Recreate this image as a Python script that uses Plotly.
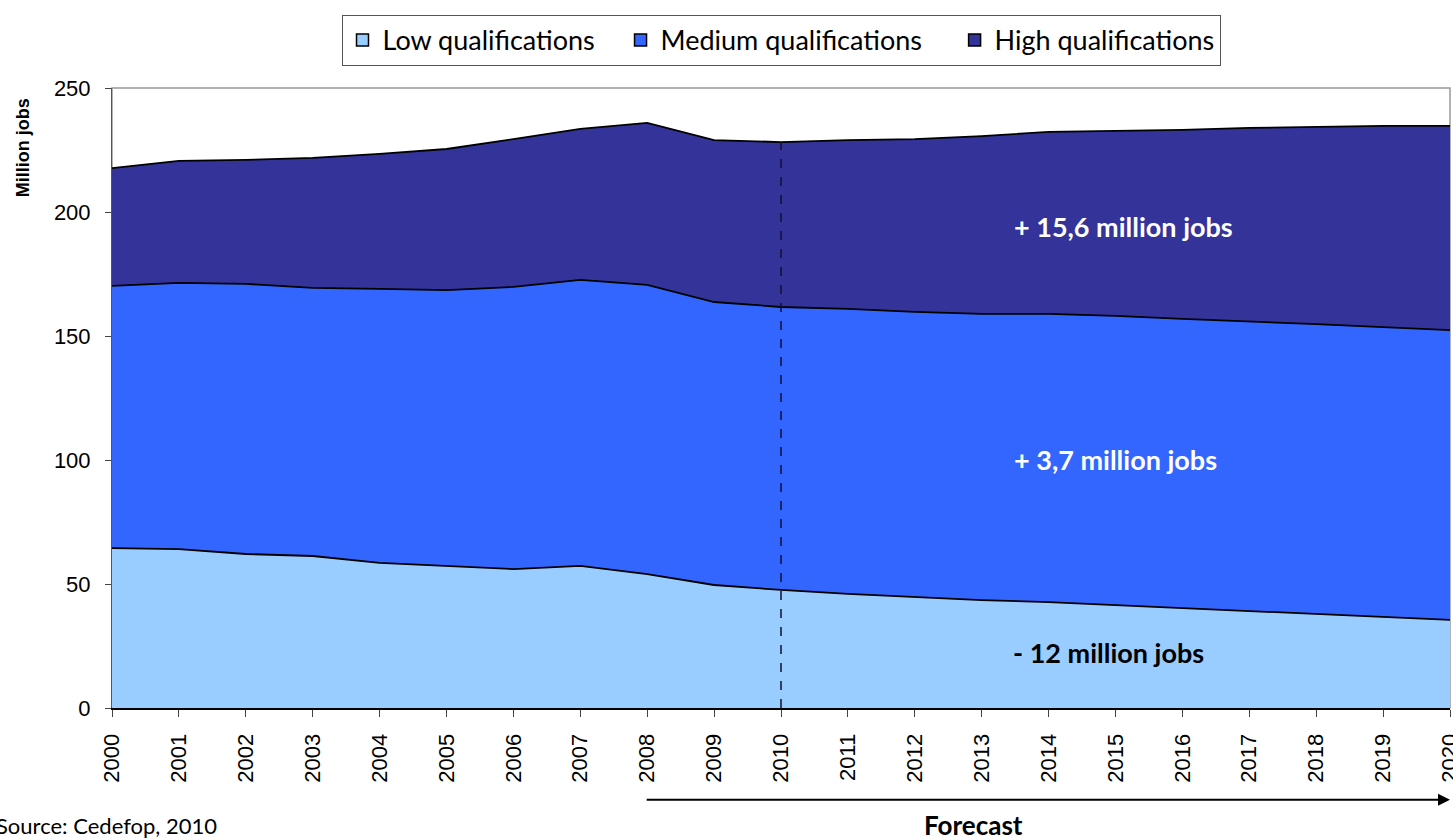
import plotly.graph_objects as go

years = list(range(2000, 2021))
total = [217.7, 220.6, 221.0, 221.8, 223.4, 225.4, 229.4, 233.5, 235.9, 229.0, 228.2,
         229.0, 229.4, 230.6, 232.3, 232.7, 233.1, 233.9, 234.3, 234.7, 234.7]
low_med = [170.2, 171.4, 171.0, 169.4, 169.0, 168.5, 169.8, 172.6, 170.6, 163.7, 161.7,
           160.9, 159.7, 158.9, 158.9, 158.1, 156.9, 156.0, 154.8, 153.6, 152.4]
low = [64.5, 64.1, 62.1, 61.3, 58.5, 57.3, 56.0, 57.3, 54.0, 49.6, 47.6,
       46.0, 44.8, 43.5, 42.7, 41.5, 40.3, 39.1, 37.9, 36.7, 35.5]
medium = [round(a - b, 2) for a, b in zip(low_med, low)]
high = [round(a - b, 2) for a, b in zip(total, low_med)]

series_names = ["Low qualifications", "Medium qualifications", "High qualifications"]
series_values = [low, medium, high]
colors = ["#99CCFF", "#3366FF", "#333399"]
legend_pad = ["&nbsp;&nbsp;&nbsp;", "&nbsp;&nbsp;&nbsp;&nbsp;", ""]

fig = go.Figure()
for name, vals, col in zip(series_names, series_values, colors):
    fig.add_trace(go.Scatter(
        x=years, y=vals, name=name, mode="lines", stackgroup="one",
        line=dict(color="black", width=1.8), fillcolor=col, showlegend=False,
    ))
# legend swatches (square boxes)
for name, col, pad in zip(series_names, colors, legend_pad):
    fig.add_trace(go.Bar(x=[None], y=[None], name=name + pad,
                         marker=dict(color=col, line=dict(color="black", width=1.5))))

FONT = "Lato"
TICKFONT = "Liberation Sans"
fig.update_layout(
    width=1453, height=840,
    margin=dict(l=112, r=3, t=88, b=132, autoexpand=False),
    plot_bgcolor="white", paper_bgcolor="white",
    showlegend=True,
    legend=dict(orientation="h", x=0.5, xanchor="center", y=1.118, yanchor="top",
                bordercolor="#555555", borderwidth=1, font=dict(family=FONT, size=27, color="black"),
                traceorder="normal", itemwidth=30, tracegroupgap=0),
    xaxis=dict(range=[2000, 2020], tickmode="array", tickvals=years,
               ticktext=[str(y) for y in years], tickangle=-90,
               tickfont=dict(family=TICKFONT, size=22, color="black"),
               showgrid=False, zeroline=False, showline=True, linecolor="black", linewidth=2,
               ticks="outside", ticklen=7, tickcolor="#444444", ticklabelstandoff=8,
               ticklabeloverflow="allow", automargin=False),
    yaxis=dict(range=[0, 250], tickvals=[0, 50, 100, 150, 200, 250],
               tickfont=dict(family=TICKFONT, size=22, color="black"),
               showgrid=False, zeroline=False, showline=True, linecolor="#555555", linewidth=1,
               ticks="outside", ticklen=6, tickcolor="#444444", ticklabelstandoff=10,
               ticklabeloverflow="allow", automargin=False),
)

# plot frame (top and right)
fig.add_shape(type="rect", xref="paper", yref="paper", x0=0, y0=0, x1=1, y1=1,
              line=dict(color="#999999", width=1.5), fillcolor="rgba(0,0,0,0)", layer="below")

# dashed forecast line at 2010
fig.add_shape(type="line", xref="x", yref="y", x0=2010, x1=2010, y0=0, y1=total[10],
              line=dict(color="#111133", width=1.5, dash="dash"), layer="above")

# text annotations
fig.add_annotation(x=2015.12, y=194, xref="x", yref="y", text="<b>+ 15,6 million jobs</b>",
                   showarrow=False, font=dict(family=FONT, size=27, color="white"))
fig.add_annotation(x=2015.0, y=100.4, xref="x", yref="y", text="<b>+ 3,7 million jobs</b>",
                   showarrow=False, font=dict(family=FONT, size=27, color="white"))
fig.add_annotation(x=2014.9, y=22.2, xref="x", yref="y", text="<b>- 12 million jobs</b>",
                   showarrow=False, font=dict(family=FONT, size=27, color="black"))

# y axis title
fig.add_annotation(x=-0.0665, y=0.903, xref="paper", yref="paper", xanchor="center", yanchor="middle",
                   text="<b>Million jobs</b>", textangle=-90, showarrow=False,
                   font=dict(family="Liberation Sans", size=18, color="black"))

# forecast arrow
fig.add_annotation(x=2020, y=-0.148, xref="x", yref="paper", ax=2007.97, ay=0,
                   axref="x", ayref="pixel", text="", showarrow=True,
                   arrowhead=2, arrowsize=1.2, arrowwidth=2, arrowcolor="black")
fig.add_annotation(x=2012.88, y=-0.189, xref="x", yref="paper", yanchor="middle",
                   text="<b>Forecast</b>", showarrow=False,
                   font=dict(family=FONT, size=26, color="black"))

# source
fig.add_annotation(x=-0.088, y=-0.19, xref="paper", yref="paper", xanchor="left", yanchor="middle",
                   text="Source: Cedefop, 2010", showarrow=False,
                   font=dict(family=FONT, size=22, color="black"))

fig.write_html("out.html", config={"displayModeBar": False},
               post_script="document.body.style.margin='0';")
